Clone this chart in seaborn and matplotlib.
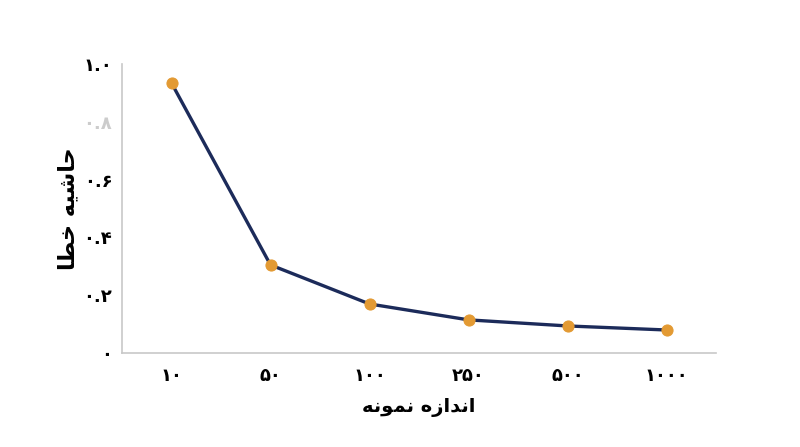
import pandas as pd
import matplotlib
matplotlib.use("Agg")
import matplotlib.pyplot as plt
import seaborn as sns

# Data
sample_sizes = ["۱۰", "۵۰", "۱۰۰", "۲۵۰", "۵۰۰", "۱۰۰۰"]
margin_error = [0.934, 0.305, 0.170, 0.115, 0.094, 0.080]
y_ticks = [0.0, 0.2, 0.4, 0.6, 0.8, 1.0]
y_tick_labels = ["۰", "۰.۲", "۰.۴", "۰.۶", "۰.۸", "۱.۰"]
x_title = "اندازه نمونه"
y_title = "حاشیه خطا"

# minimal Arabic shaping (matplotlib has no shaper): isolated, final, initial, medial
FORMS = {
    "ا": ("\uFE8D", "\uFE8E", None, None),
    "د": ("\uFEA9", "\uFEAA", None, None),
    "ز": ("\uFEAF", "\uFEB0", None, None),
    "و": ("\uFEED", "\uFEEE", None, None),
    "ه": ("\uFEE9", "\uFEEA", "\uFEEB", "\uFEEC"),
    "ن": ("\uFEE5", "\uFEE6", "\uFEE7", "\uFEE8"),
    "م": ("\uFEE1", "\uFEE2", "\uFEE3", "\uFEE4"),
    "ح": ("\uFEA1", "\uFEA2", "\uFEA3", "\uFEA4"),
    "خ": ("\uFEA5", "\uFEA6", "\uFEA7", "\uFEA8"),
    "ش": ("\uFEB5", "\uFEB6", "\uFEB7", "\uFEB8"),
    "ط": ("\uFEC1", "\uFEC2", "\uFEC3", "\uFEC4"),
    "ی": ("\uFBFC", "\uFBFD", "\uFEF3", "\uFEF4"),
}


def shape(text):
    out = []
    for i, ch in enumerate(text):
        if ch not in FORMS:
            out.append(ch)
            continue
        prev = text[i - 1] if i > 0 else ""
        nxt = text[i + 1] if i + 1 < len(text) else ""
        join_prev = prev in FORMS and FORMS[prev][2] is not None
        join_next = nxt in FORMS and FORMS[ch][2] is not None
        iso, fin, ini, med = FORMS[ch]
        if join_prev and join_next:
            out.append(med)
        elif join_prev:
            out.append(fin)
        elif join_next:
            out.append(ini)
        else:
            out.append(iso)
    return "".join(out)[::-1]


df = pd.DataFrame({"n": sample_sizes, "moe": margin_error})

sns.set_style("white")
plt.rcParams["font.family"] = ["DejaVu Sans"]
plt.rcParams["text.color"] = "black"
plt.rcParams["xtick.color"] = "black"
plt.rcParams["ytick.color"] = "black"
plt.rcParams["axes.labelcolor"] = "black"

fig = plt.figure(figsize=(8, 4.47), dpi=100)
ax = fig.add_axes([0.1525, 0.21, 0.7425, 0.647])

sns.lineplot(data=df, x="n", y="moe", sort=False, ax=ax, color="#1c2b5a",
             linewidth=2.4, marker="o", markersize=8,
             markerfacecolor="#e39a33", markeredgecolor="#e39a33")

ax.set_xlim(-0.5, 5.5)
ax.set_ylim(0, 1.0)
ax.set_yticks(y_ticks)
ax.set_yticklabels(y_tick_labels, fontsize=13, fontweight="bold")
for lab in ax.get_xticklabels():
    lab.set_fontsize(13)
    lab.set_fontweight("bold")
ax.get_yticklabels()[4].set_color("#cccccc")

ax.tick_params(axis="both", length=0)
ax.tick_params(axis="x", pad=10)
ax.tick_params(axis="y", pad=7)

for side in ["top", "right"]:
    ax.spines[side].set_visible(False)
for side in ["left", "bottom"]:
    ax.spines[side].set_color("#c8c8c8")
    ax.spines[side].set_linewidth(1.2)

ax.set_xlabel(shape(x_title), fontsize=14, fontweight="bold", labelpad=9)
ax.set_ylabel(shape(y_title), fontsize=16, fontweight="bold", labelpad=4)

fig.savefig("out.png", dpi=100)
